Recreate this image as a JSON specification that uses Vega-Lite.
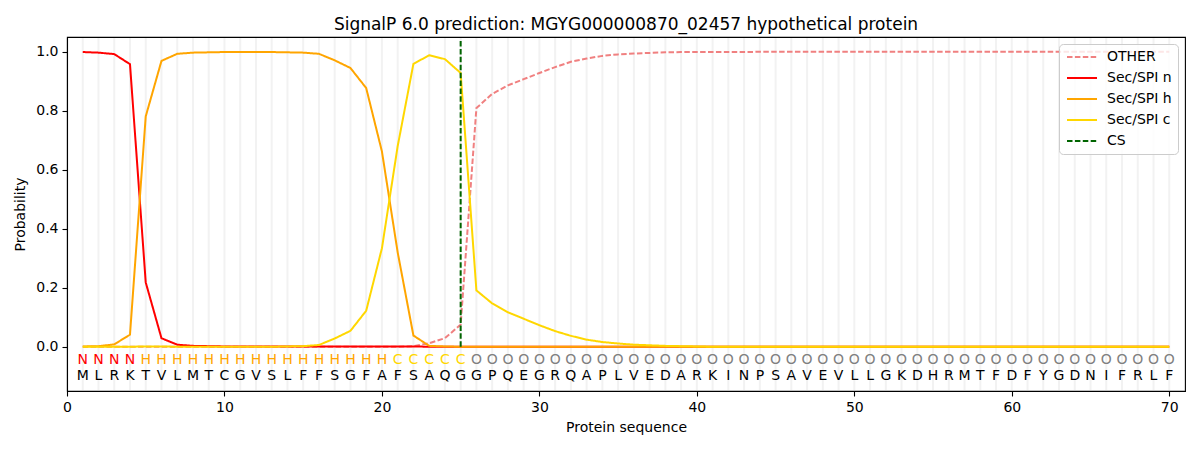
{
  "$schema": "https://vega.github.io/schema/vega-lite/v6.json",
  "autosize": {"type": "none"},
  "width": 1118,
  "height": 354,
  "padding": {"left": 67, "top": 37, "right": 15, "bottom": 59},
  "title": {"text": "SignalP 6.0 prediction: MGYG000000870_02457 hypothetical protein", "fontSize": 17, "fontWeight": "normal", "font": "DejaVu Sans", "color": "black", "offset": 2},
  "datasets": {
    "seq": [
      {"pos": 1, "aa": "M", "lab": "N", "OTHER": 0, "n": 0.999, "h": 0.001, "c": 0},
      {"pos": 2, "aa": "L", "lab": "N", "OTHER": 0, "n": 0.997, "h": 0.002, "c": 0},
      {"pos": 3, "aa": "R", "lab": "N", "OTHER": 0, "n": 0.992, "h": 0.008, "c": 0},
      {"pos": 4, "aa": "K", "lab": "N", "OTHER": 0, "n": 0.958, "h": 0.041, "c": 0},
      {"pos": 5, "aa": "T", "lab": "H", "OTHER": 0, "n": 0.218, "h": 0.781, "c": 0.001},
      {"pos": 6, "aa": "V", "lab": "H", "OTHER": 0, "n": 0.029, "h": 0.969, "c": 0.001},
      {"pos": 7, "aa": "L", "lab": "H", "OTHER": 0, "n": 0.007, "h": 0.993, "c": 0},
      {"pos": 8, "aa": "M", "lab": "H", "OTHER": 0, "n": 0.003, "h": 0.997, "c": 0},
      {"pos": 9, "aa": "T", "lab": "H", "OTHER": 0, "n": 0.002, "h": 0.998, "c": 0},
      {"pos": 10, "aa": "C", "lab": "H", "OTHER": 0, "n": 0.001, "h": 0.999, "c": 0},
      {"pos": 11, "aa": "G", "lab": "H", "OTHER": 0, "n": 0.001, "h": 0.999, "c": 0},
      {"pos": 12, "aa": "V", "lab": "H", "OTHER": 0, "n": 0.001, "h": 0.999, "c": 0},
      {"pos": 13, "aa": "S", "lab": "H", "OTHER": 0, "n": 0.001, "h": 0.999, "c": 0},
      {"pos": 14, "aa": "L", "lab": "H", "OTHER": 0, "n": 0.001, "h": 0.998, "c": 0.001},
      {"pos": 15, "aa": "F", "lab": "H", "OTHER": 0, "n": 0.001, "h": 0.997, "c": 0.002},
      {"pos": 16, "aa": "F", "lab": "H", "OTHER": 0, "n": 0.001, "h": 0.993, "c": 0.006},
      {"pos": 17, "aa": "S", "lab": "H", "OTHER": 0, "n": 0.001, "h": 0.971, "c": 0.028},
      {"pos": 18, "aa": "G", "lab": "H", "OTHER": 0, "n": 0.001, "h": 0.945, "c": 0.054},
      {"pos": 19, "aa": "F", "lab": "H", "OTHER": 0, "n": 0.001, "h": 0.877, "c": 0.122},
      {"pos": 20, "aa": "A", "lab": "H", "OTHER": 0, "n": 0.001, "h": 0.662, "c": 0.334},
      {"pos": 21, "aa": "F", "lab": "C", "OTHER": 0, "n": 0.001, "h": 0.32, "c": 0.68},
      {"pos": 22, "aa": "S", "lab": "C", "OTHER": 0.002, "n": 0.001, "h": 0.038, "c": 0.959},
      {"pos": 23, "aa": "A", "lab": "C", "OTHER": 0.012, "n": 0, "h": 0.003, "c": 0.988},
      {"pos": 24, "aa": "Q", "lab": "C", "OTHER": 0.029, "n": 0, "h": 0.001, "c": 0.975},
      {"pos": 25, "aa": "G", "lab": "C", "OTHER": 0.075, "n": 0, "h": 0, "c": 0.928},
      {"pos": 26, "aa": "G", "lab": "O", "OTHER": 0.809, "n": 0, "h": 0, "c": 0.191},
      {"pos": 27, "aa": "P", "lab": "O", "OTHER": 0.857, "n": 0, "h": 0, "c": 0.147},
      {"pos": 28, "aa": "Q", "lab": "O", "OTHER": 0.886, "n": 0, "h": 0, "c": 0.117},
      {"pos": 29, "aa": "E", "lab": "O", "OTHER": 0.907, "n": 0, "h": 0, "c": 0.095},
      {"pos": 30, "aa": "G", "lab": "O", "OTHER": 0.928, "n": 0, "h": 0, "c": 0.073},
      {"pos": 31, "aa": "R", "lab": "O", "OTHER": 0.948, "n": 0, "h": 0, "c": 0.053},
      {"pos": 32, "aa": "Q", "lab": "O", "OTHER": 0.966, "n": 0, "h": 0, "c": 0.037},
      {"pos": 33, "aa": "A", "lab": "O", "OTHER": 0.977, "n": 0, "h": 0, "c": 0.024},
      {"pos": 34, "aa": "P", "lab": "O", "OTHER": 0.986, "n": 0, "h": 0, "c": 0.016},
      {"pos": 35, "aa": "L", "lab": "O", "OTHER": 0.991, "n": 0, "h": 0, "c": 0.011},
      {"pos": 36, "aa": "V", "lab": "O", "OTHER": 0.994, "n": 0, "h": 0, "c": 0.007},
      {"pos": 37, "aa": "E", "lab": "O", "OTHER": 0.996, "n": 0, "h": 0, "c": 0.005},
      {"pos": 38, "aa": "D", "lab": "O", "OTHER": 0.998, "n": 0, "h": 0, "c": 0.003},
      {"pos": 39, "aa": "A", "lab": "O", "OTHER": 0.999, "n": 0, "h": 0, "c": 0.002},
      {"pos": 40, "aa": "R", "lab": "O", "OTHER": 0.999, "n": 0, "h": 0, "c": 0.001},
      {"pos": 41, "aa": "K", "lab": "O", "OTHER": 0.999, "n": 0, "h": 0, "c": 0},
      {"pos": 42, "aa": "I", "lab": "O", "OTHER": 0.999, "n": 0, "h": 0, "c": 0},
      {"pos": 43, "aa": "N", "lab": "O", "OTHER": 0.999, "n": 0, "h": 0, "c": 0},
      {"pos": 44, "aa": "P", "lab": "O", "OTHER": 1, "n": 0, "h": 0, "c": 0},
      {"pos": 45, "aa": "S", "lab": "O", "OTHER": 1, "n": 0, "h": 0, "c": 0},
      {"pos": 46, "aa": "A", "lab": "O", "OTHER": 1, "n": 0, "h": 0, "c": 0},
      {"pos": 47, "aa": "V", "lab": "O", "OTHER": 1, "n": 0, "h": 0, "c": 0},
      {"pos": 48, "aa": "E", "lab": "O", "OTHER": 1, "n": 0, "h": 0, "c": 0},
      {"pos": 49, "aa": "V", "lab": "O", "OTHER": 1, "n": 0, "h": 0, "c": 0},
      {"pos": 50, "aa": "L", "lab": "O", "OTHER": 1, "n": 0, "h": 0, "c": 0},
      {"pos": 51, "aa": "L", "lab": "O", "OTHER": 1, "n": 0, "h": 0, "c": 0},
      {"pos": 52, "aa": "G", "lab": "O", "OTHER": 1, "n": 0, "h": 0, "c": 0},
      {"pos": 53, "aa": "K", "lab": "O", "OTHER": 1, "n": 0, "h": 0, "c": 0},
      {"pos": 54, "aa": "D", "lab": "O", "OTHER": 1, "n": 0, "h": 0, "c": 0},
      {"pos": 55, "aa": "H", "lab": "O", "OTHER": 1, "n": 0, "h": 0, "c": 0},
      {"pos": 56, "aa": "R", "lab": "O", "OTHER": 1, "n": 0, "h": 0, "c": 0},
      {"pos": 57, "aa": "M", "lab": "O", "OTHER": 1, "n": 0, "h": 0, "c": 0},
      {"pos": 58, "aa": "T", "lab": "O", "OTHER": 1, "n": 0, "h": 0, "c": 0},
      {"pos": 59, "aa": "F", "lab": "O", "OTHER": 1, "n": 0, "h": 0, "c": 0},
      {"pos": 60, "aa": "D", "lab": "O", "OTHER": 1, "n": 0, "h": 0, "c": 0},
      {"pos": 61, "aa": "F", "lab": "O", "OTHER": 1, "n": 0, "h": 0, "c": 0},
      {"pos": 62, "aa": "Y", "lab": "O", "OTHER": 1, "n": 0, "h": 0, "c": 0},
      {"pos": 63, "aa": "G", "lab": "O", "OTHER": 1, "n": 0, "h": 0, "c": 0},
      {"pos": 64, "aa": "D", "lab": "O", "OTHER": 1, "n": 0, "h": 0, "c": 0},
      {"pos": 65, "aa": "N", "lab": "O", "OTHER": 1, "n": 0, "h": 0, "c": 0},
      {"pos": 66, "aa": "I", "lab": "O", "OTHER": 1, "n": 0, "h": 0, "c": 0},
      {"pos": 67, "aa": "F", "lab": "O", "OTHER": 1, "n": 0, "h": 0, "c": 0},
      {"pos": 68, "aa": "R", "lab": "O", "OTHER": 1, "n": 0, "h": 0, "c": 0},
      {"pos": 69, "aa": "L", "lab": "O", "OTHER": 1, "n": 0, "h": 0, "c": 0},
      {"pos": 70, "aa": "F", "lab": "O", "OTHER": 1, "n": 0, "h": 0, "c": 0}
    ],
    "cs": [
      {"pos": 25, "key": "CS", "p": 0},
      {"pos": 25, "key": "CS", "p": 1.04}
    ]
  },
  "data": {"name": "seq"},
  "encoding": {
    "x": {
      "field": "pos", "type": "quantitative",
      "scale": {"domain": [0, 71], "nice": false, "zero": false},
      "axis": {"values": [0, 10, 20, 30, 40, 50, 60, 70], "title": "Protein sequence", "grid": false, "labelFlush": false, "titlePadding": 6}
    }
  },
  "layer": [
    {
      "mark": {"type": "rule", "color": "#f2f2f2", "strokeWidth": 2},
      "encoding": {
        "y": {"datum": -0.147, "type": "quantitative", "title": "Probability"},
        "y2": {"datum": 1.047}
      }
    },
    {
      "transform": [{"fold": ["OTHER", "n", "h", "c"], "as": ["key", "p"]}],
      "mark": {"type": "line", "strokeWidth": 2, "clip": true},
      "encoding": {
        "y": {"field": "p", "type": "quantitative", "scale": {"domain": [-0.15, 1.05], "nice": false, "zero": false}, "axis": {"values": [0, 0.2, 0.4, 0.6, 0.8, 1.0], "format": ".1f", "title": "Probability", "grid": false, "titlePadding": 8}},
        "color": {"field": "key", "type": "nominal", "scale": {"domain": ["OTHER", "n", "h", "c", "CS"], "range": ["#f08080", "#ff0000", "#ffa500", "#ffd700", "#006400"]}, "legend": {"title": null, "labelExpr": "datum.label === 'OTHER' || datum.label === 'CS' ? datum.label : 'Sec/SPI ' + datum.label"}},
        "strokeDash": {"field": "key", "type": "nominal", "scale": {"domain": ["OTHER", "n", "h", "c", "CS"], "range": [[5.5, 2.4], [1, 0], [1, 0], [1, 0], [5.5, 2.4]]}, "legend": {"title": null, "labelExpr": "datum.label === 'OTHER' || datum.label === 'CS' ? datum.label : 'Sec/SPI ' + datum.label"}}
      }
    },
    {
      "data": {"name": "cs"},
      "mark": {"type": "line", "strokeWidth": 2},
      "encoding": {
        "y": {"field": "p", "type": "quantitative", "title": "Probability"},
        "color": {"field": "key", "type": "nominal"},
        "strokeDash": {"field": "key", "type": "nominal"}
      }
    },
    {
      "mark": {"type": "text", "fontSize": 14, "font": "DejaVu Sans", "baseline": "middle", "align": "center"},
      "encoding": {
        "y": {"datum": -0.046, "type": "quantitative", "title": "Probability"},
        "text": {"field": "lab"},
        "color": {"condition": [{"test": "datum.lab === 'N'", "value": "#ff0000"}, {"test": "datum.lab === 'H'", "value": "#ffa500"}, {"test": "datum.lab === 'C'", "value": "#ffd700"}], "value": "#808080"}
      }
    },
    {
      "mark": {"type": "text", "fontSize": 14, "font": "DejaVu Sans", "baseline": "middle", "align": "center", "color": "black"},
      "encoding": {
        "y": {"datum": -0.098, "type": "quantitative", "title": "Probability"},
        "text": {"field": "aa"}
      }
    }
  ],
  "config": {
    "font": "DejaVu Sans",
    "view": {"stroke": "black", "strokeWidth": 1.1},
    "axis": {"labelFont": "DejaVu Sans", "titleFont": "DejaVu Sans", "labelFontSize": 14, "titleFontSize": 14, "titleFontWeight": "normal", "labelColor": "black", "titleColor": "black", "domainColor": "black", "tickColor": "black", "tickSize": 5, "labelPadding": 4, "domainWidth": 1.1, "tickWidth": 1.1},
    "legend": {"orient": "top-right", "offset": 7, "fillColor": "rgba(255,255,255,0.8)", "strokeColor": "#cccccc", "cornerRadius": 4, "padding": 6, "labelFont": "DejaVu Sans", "labelFontSize": 14, "labelColor": "black", "symbolType": "M-1,0H5", "symbolSize": 100, "symbolStrokeWidth": 2, "labelOffset": 28, "rowPadding": 7}
  }
}
